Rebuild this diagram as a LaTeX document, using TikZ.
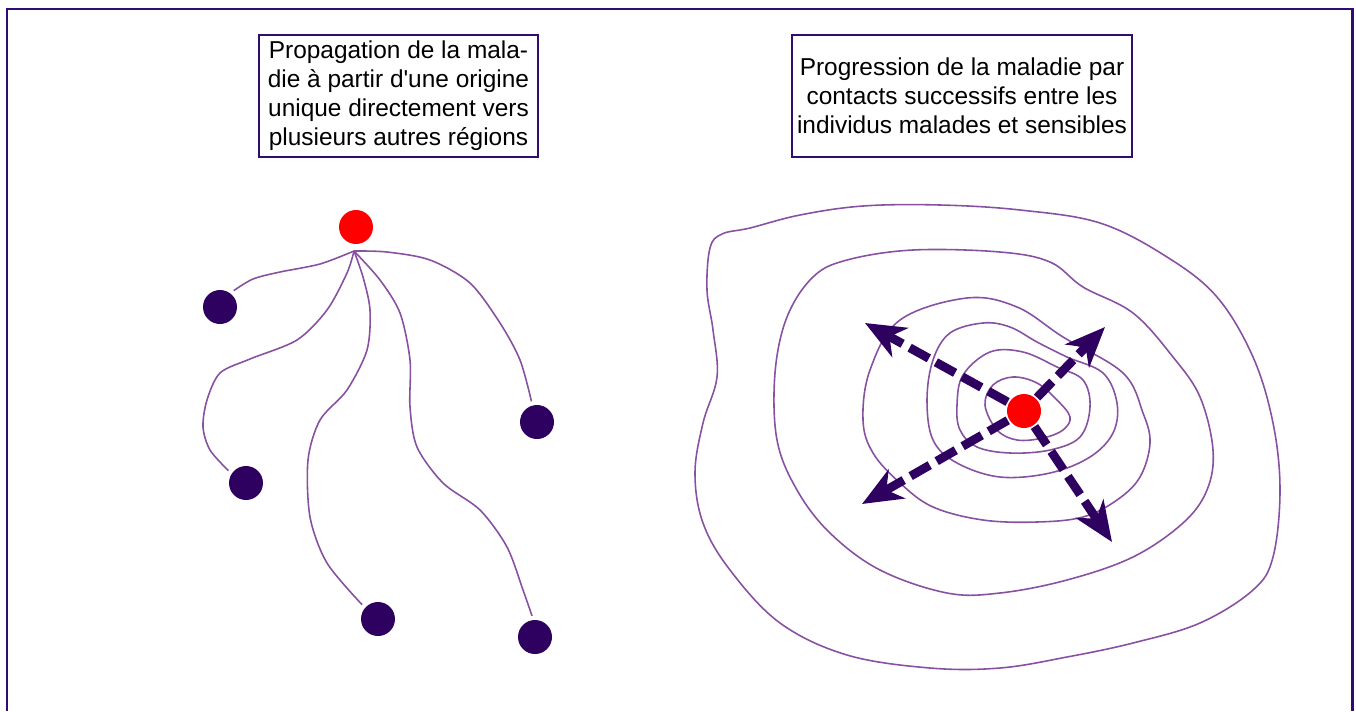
\documentclass[tikz,border=0pt]{standalone}
\usepackage{fontspec}
\setmainfont{Liberation Sans}[Ligatures=TeXOff]
\usetikzlibrary{arrows.meta}
\definecolor{cadre}{RGB}{48,12,110}
\definecolor{sain}{RGB}{46,0,96}
\definecolor{trait}{RGB}{135,80,160}

\begin{document}
\begin{tikzpicture}[x=0.02cm, y=-0.02cm,
    every node/.style={font=\fontsize{13.9}{16.5}\selectfont},
    texte/.style={draw=cadre, line width=1.1pt, align=center, inner sep=2pt, minimum height=2.44cm},
    point/.style={circle, fill=sain, minimum size=0.68cm, inner sep=0pt, outer sep=2.5pt},
    foyer/.style={point, fill=red, outer sep=1pt},
    lien/.style={trait, line width=0.9pt},
    courbe/.style={lien, smooth cycle, tension=0.6},
    fleche/.style={sain, line width=5pt, dash pattern=on 0.44cm off 0.16cm, -{Stealth[length=0.8cm, width=0.66cm, inset=0.24cm]}}]
    \useasboundingbox (0,0) rectangle (1356,711);
    \draw[cadre, line width=1.7pt] (7,711) -- (7,9) -- (1352,9) -- (1352,711);

    \node[texte, minimum width=5.58cm] (titre1) at (398.5,96) {Propagation de la mala-\\die à partir d'une origine\\unique directement vers\\plusieurs autres régions};
    \node[texte, minimum width=6.8cm] (titre2) at (962,96) {Progression de la maladie par\\contacts successifs entre les\\individus malades et sensibles};

    \node[foyer] (origine) at (356,227) {};
    \node[point] (r1) at (220,307) {};
    \node[point] (r2) at (246,483) {};
    \node[point] (r3) at (378,619) {};
    \node[point] (r4) at (537,422) {};
    \node[point] (r5) at (535,637) {};
    \coordinate (depart) at (354,251);

    \draw[lien] plot[smooth] coordinates {(depart) (320,264) (280,272) (253,279) (r1.50)};
    \draw[lien] plot[smooth] coordinates {(depart) (347,273) (327,310) (297,340) (250,359) (220,373) (207,400) (203,427) (210,450) (r2.145)};
    \draw[lien] plot[smooth] coordinates {(depart) (363,277) (370,310) (367,350) (347,390) (320,420) (308,460) (310,517) (327,563) (r3.138)};
    \draw[lien] plot[smooth] coordinates {(depart) (380,280) (400,313) (410,360) (410,407) (417,447) (443,483) (480,510) (507,547) (523,590) (r5.98)};
    \draw[lien] plot[smooth] coordinates {(depart) (387,252) (430,260) (470,283) (500,323) (520,360) (r4.105)};

    \draw[courbe] plot coordinates {(707,290) (713,330) (717,377) (703,423) (695,473) (703,523) (730,570) (780,623) (847,655) (930,668) (1000,668) (1067,657) (1133,643) (1200,623) (1253,590) (1273,557) (1280,490) (1273,423) (1253,357) (1217,297) (1167,257) (1100,223) (1020,210) (940,205) (863,206) (800,215) (750,228) (722,234) (710,248)};
    \draw[courbe] plot coordinates {(775,373) (787,317) (813,277) (847,260) (913,250) (1000,252) (1050,262) (1083,287) (1133,313) (1173,357) (1200,397) (1213,450) (1207,490) (1183,523) (1133,557) (1067,580) (1000,593) (947,593) (880,570) (830,533) (797,490) (777,440)};
    \draw[courbe] plot coordinates {(863,420) (870,370) (900,320) (967,298) (1017,307) (1063,337) (1123,373) (1143,413) (1150,443) (1140,477) (1117,500) (1083,517) (1037,522) (983,520) (933,507) (900,483) (873,453)};
    \draw[courbe] plot coordinates {(927,400) (933,360) (950,333) (983,323) (1010,327) (1037,342) (1067,357) (1103,373) (1117,403) (1113,433) (1090,457) (1050,473) (1000,477) (957,463) (933,440)};
    \draw[courbe] plot coordinates {(957,405) (963,375) (990,352) (1023,352) (1057,367) (1083,380) (1090,407) (1080,437) (1050,450) (1010,453) (977,447) (960,430)};
    \draw[courbe] plot coordinates {(985,405) (993,385) (1013,377) (1037,383) (1057,400) (1070,417) (1063,430) (1043,438) (1017,440) (997,430)};

    \node[foyer] (centre) at (1024,411) {};
    \coordinate (nordouest) at (865,323);
    \coordinate (nordest) at (1105,327);
    \coordinate (sudouest) at (862,504);
    \coordinate (sudest) at (1112,542);
    \draw[fleche] (centre) -- (nordouest);
    \draw[fleche] (centre) -- (nordest);
    \draw[fleche] (centre) -- (sudouest);
    \draw[fleche] (centre) -- (sudest);
\end{tikzpicture}
\end{document}
